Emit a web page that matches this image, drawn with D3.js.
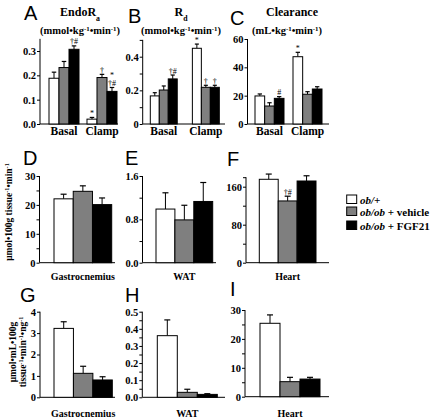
<!DOCTYPE html>
<html><head><meta charset="utf-8">
<script src="https://cdn.jsdelivr.net/npm/d3@7"></script>
<style>body{margin:0;background:#fff}svg{display:block}</style>
</head><body><svg id="c" width="434" height="418"></svg>
<script>
// ---------- data ----------
const series = ["ob/+", "ob/ob + vehicle", "ob/ob + FGF21"];
const seriesColors = ["#ffffff", "#7f7f7f", "#000000"];
const clampCats = ["Basal", "Clamp"];

const endoRaMean = [[0.188, 0.232, 0.307], [0.020, 0.191, 0.134]];
const endoRaSem  = [[0.025, 0.025, 0.014], [0.007, 0.013, 0.016]];
const rdMean = [[0.167, 0.202, 0.268], [0.450, 0.218, 0.218]];
const rdSem  = [[0.019, 0.024, 0.023], [0.025, 0.012, 0.012]];
const clearMean = [[19.8, 12.7, 18.1], [47.5, 21.0, 24.7]];
const clearSem  = [[1.4, 2.3, 1.2], [3.1, 1.8, 1.6]];

const uptakeGastroMean = [22.1, 24.7, 20.1], uptakeGastroSem = [1.6, 1.9, 2.3];
const uptakeWatMean = [0.99, 0.79, 1.13], uptakeWatSem = [0.30, 0.27, 0.35];
const uptakeHeartMean = [175.6, 130, 172], uptakeHeartSem = [11, 10, 11];
const normGastroMean = [3.22, 1.12, 0.81], normGastroSem = [0.31, 0.33, 0.15];
const normWatMean = [0.36, 0.029, 0.017], normWatSem = [0.092, 0.018, 0.004];
const normHeartMean = [25.4, 5.2, 6.1], normHeartSem = [2.9, 1.5, 0.6];

const ticksA = [0, 0.1, 0.2, 0.3], tickLabelsA = ["0.0", "0.1", "0.2", "0.3"];
const ticksB = [0, 0.1, 0.2, 0.3, 0.4, 0.5], tickLabelsB = ["0", "", "0.2", "", "0.4", ""];
const ticksC = [0, 20, 40, 60], tickLabelsC = ["0", "20", "40", "60"];
const ticksD = [0, 5, 10, 15, 20, 25, 30], tickLabelsD = ["0", "", "10", "", "20", "", "30"];
const ticksE = [0, 0.4, 0.8, 1.2, 1.6], tickLabelsE = ["0.0", "", "0.8", "", "1.6"];
const ticksF = [0, 40, 80, 120, 160, 180], tickLabelsF = ["0", "", "80", "", "160", ""];
const ticksG = [0, 1, 2, 3, 4], tickLabelsG = ["0", "1", "2", "3", "4"];
const ticksH = [0, 0.05, 0.1, 0.15, 0.2, 0.25, 0.3, 0.35, 0.4, 0.45, 0.5],
      tickLabelsH = ["0.0", "", "0.1", "", "0.2", "", "0.3", "", "0.4", "", "0.5"];
const ticksI = [0, 5, 10, 15, 20, 25, 30], tickLabelsI = ["0", "", "10", "", "20", "", "30"];

// annotations: [category index, series index, stacked lines (top first)]
const annotA = [[0, 2, ["†#"]], [1, 0, ["*"]], [1, 1, ["†"]], [1, 2, ["*", "†#"]]];
const annotB = [[0, 2, ["†#"]], [1, 0, ["*"]], [1, 1, ["†"]], [1, 2, ["†"]]];
const annotC = [[0, 2, ["#"]], [1, 0, ["*"]]];
const annotF = [[0, 1, ["†#"]]];

// ---------- drawing ----------
const svg = d3.select("#c");
const SERIF = "'Liberation Serif','Times New Roman',serif";
const SANS = "'Liberation Sans',Arial,sans-serif";

function panel(o) {
  const g = svg.append("g");
  const y = d3.scaleLinear().domain([0, o.yMax]).range([o.y0, o.yTopPx]);
  const x = d3.scaleBand().domain(o.cats).range(o.barRange).paddingInner(o.pad).paddingOuter(0);
  const xs = d3.scaleBand().domain(series).range([0, x.bandwidth()]);
  const ax = d3.axisLeft(y).tickValues(o.ticks).tickSize(3).tickPadding(1)
    .tickFormat((d, i) => o.tickLabels[i]);
  const ag = g.append("g").attr("transform", `translate(${o.axisX},0)`).call(ax);
  ag.select(".domain").remove();
  ag.selectAll(".tick line").attr("stroke", "#000");
  ag.selectAll(".tick text").attr("font-family", SERIF).attr("font-weight", "bold")
    .attr("font-size", 10.5).attr("fill", "#000");
  g.append("line").attr("x1", o.axisX).attr("x2", o.axisX)
    .attr("y1", y(0)).attr("y2", y(o.axisTop)).attr("stroke", "#000");
  g.append("line").attr("x1", o.axisX).attr("x2", o.xEnd)
    .attr("y1", y(0)).attr("y2", y(0)).attr("stroke", "#000");

  o.cats.forEach((c, ci) => {
    const means = o.cats.length > 1 ? o.mean[ci] : o.mean;
    const sems = o.cats.length > 1 ? o.sem[ci] : o.sem;
    series.forEach((s, si) => {
      const bx = x(c) + xs(s), bw = xs.bandwidth();
      const cx = bx + bw / 2, top = y(means[si] + sems[si]);
      g.append("line").attr("x1", cx).attr("x2", cx).attr("y1", y(means[si])).attr("y2", top)
        .attr("stroke", "#000").attr("stroke-width", 1);
      const cw = Math.min(6, bw * 0.45);
      g.append("line").attr("x1", cx - cw / 2).attr("x2", cx + cw / 2).attr("y1", top).attr("y2", top)
        .attr("stroke", "#000").attr("stroke-width", 1.2);
      g.append("rect").attr("x", bx).attr("y", y(means[si])).attr("width", bw)
        .attr("height", y(0) - y(means[si])).attr("fill", seriesColors[si])
        .attr("stroke", "#000").attr("stroke-width", 1);
    });
    g.append("text").attr("x", x(c) + x.bandwidth() / 2).attr("y", o.catY)
      .attr("text-anchor", "middle").attr("font-family", SERIF).attr("font-weight", "bold")
      .attr("font-size", o.catSize).attr("fill", "#000").text(c);
  });
  (o.annot || []).forEach(([ci, si, lines]) => {
    const c = o.cats[ci];
    const means = o.cats.length > 1 ? o.mean[ci] : o.mean;
    const sems = o.cats.length > 1 ? o.sem[ci] : o.sem;
    const cx = x(c) + xs(series[si]) + xs.bandwidth() / 2;
    const top = y(means[si] + sems[si]);
    lines.slice().reverse().forEach((t, k) => {
      g.append("text").attr("x", cx).attr("y", top - 1.5 - k * 8).attr("text-anchor", "middle")
        .attr("font-family", SERIF).attr("font-size", 8).attr("fill", "#000").text(t);
    });
  });
  svg.append("text").attr("x", o.letter[1]).attr("y", o.letter[2]).attr("font-family", SANS)
    .attr("font-size", 20).attr("fill", "#000").text(o.letter[0]);
}

function richText(xp, yp, parts, size, anchor, rotate) {
  const t = svg.append("text").attr("font-family", SERIF).attr("font-weight", "bold")
    .attr("font-size", size).attr("fill", "#000").attr("text-anchor", anchor || "middle");
  if (rotate) t.attr("transform", `translate(${xp},${yp}) rotate(-90)`);
  else t.attr("x", xp).attr("y", yp);
  parts.forEach(p => {
    if (typeof p === "string") t.append("tspan").text(p);
    else t.append("tspan").attr("baseline-shift", p.shift).attr("font-size", size * 0.65).text(p.t);
  });
  return t;
}
const sup = t => ({ t, shift: "super" }), sub = t => ({ t, shift: "sub" });
const unitParts = ["(mmol•kg", sup("-1"), "•min", sup("-1"), ")"];

// Row 1
panel({ cats: clampCats, mean: endoRaMean, sem: endoRaSem, yMax: 0.3, y0: 124, yTopPx: 51, axisTop: 0.35,
  ticks: ticksA, tickLabels: tickLabelsA, axisX: 40, barRange: [49, 117], pad: 0.21, xEnd: 118,
  catY: 135, catSize: 11.5, annot: annotA, letter: ["A", 24, 20] });
panel({ cats: clampCats, mean: rdMean, sem: rdSem, yMax: 0.4, y0: 124, yTopPx: 56.7, axisTop: 0.5,
  ticks: ticksB, tickLabels: tickLabelsB, axisX: 142.7, barRange: [150.3, 219.3], pad: 0.36, xEnd: 225,
  catY: 135, catSize: 11.5, annot: annotB, letter: ["B", 128, 23] });
panel({ cats: clampCats, mean: clearMean, sem: clearSem, yMax: 60, y0: 124, yTopPx: 39, axisTop: 60,
  ticks: ticksC, tickLabels: tickLabelsC, axisX: 247.5, barRange: [255, 322], pad: 0.237, xEnd: 329,
  catY: 135, catSize: 11.5, annot: annotC, letter: ["C", 230, 25] });

richText(80, 16, ["EndoR", sub("a")], 12);
richText(80, 34, unitParts, 10.5);
richText(181, 16, ["R", sub("d")], 12);
richText(181, 34, unitParts, 10.5);
richText(292, 16, ["Clearance"], 12);
richText(287, 34, ["(mL•kg", sup("-1"), "•min", sup("-1"), ")"], 10.5);

// Row 2
panel({ cats: ["Gastrocnemius"], mean: uptakeGastroMean, sem: uptakeGastroSem, yMax: 30, y0: 262.7, yTopPx: 176, axisTop: 30,
  ticks: ticksD, tickLabels: tickLabelsD, axisX: 39.5, barRange: [54, 111.7], pad: 0, xEnd: 115,
  catY: 280, catSize: 10, letter: ["D", 23, 165] });
panel({ cats: ["WAT"], mean: uptakeWatMean, sem: uptakeWatSem, yMax: 1.6, y0: 262.7, yTopPx: 176, axisTop: 1.6,
  ticks: ticksE, tickLabels: tickLabelsE, axisX: 142.5, barRange: [156, 212.7], pad: 0, xEnd: 216,
  catY: 280, catSize: 10, letter: ["E", 125, 165] });
panel({ cats: ["Heart"], mean: uptakeHeartMean, sem: uptakeHeartSem, yMax: 160, y0: 262.7, yTopPx: 186.7, axisTop: 180,
  ticks: ticksF, tickLabels: tickLabelsF, axisX: 246, barRange: [259.3, 316], pad: 0, xEnd: 329,
  catY: 280, catSize: 10, annot: annotF, letter: ["F", 227, 166] });
richText(12, 212, ["μmol•100g tissue", sup("-1"), "•min", sup("-1")], 9.5, "middle", true);

// Row 3
panel({ cats: ["Gastrocnemius"], mean: normGastroMean, sem: normGastroSem, yMax: 4, y0: 397.3, yTopPx: 311.7, axisTop: 4,
  ticks: ticksG, tickLabels: tickLabelsG, axisX: 40, barRange: [54, 112.3], pad: 0, xEnd: 115,
  catY: 417, catSize: 10, letter: ["G", 20, 302] });
panel({ cats: ["WAT"], mean: normWatMean, sem: normWatSem, yMax: 0.5, y0: 397.3, yTopPx: 311.7, axisTop: 0.5,
  ticks: ticksH, tickLabels: tickLabelsH, axisX: 142.3, barRange: [157.3, 217.3], pad: 0, xEnd: 225,
  catY: 417, catSize: 10, letter: ["H", 125, 302] });
panel({ cats: ["Heart"], mean: normHeartMean, sem: normHeartSem, yMax: 30, y0: 396.7, yTopPx: 310, axisTop: 30,
  ticks: ticksI, tickLabels: tickLabelsI, axisX: 245, barRange: [260, 320], pad: 0, xEnd: 329,
  catY: 417, catSize: 10, letter: ["I", 230, 296] });
richText(16, 352, ["μmol•mL•100g"], 9.5, "middle", true);
richText(26, 352, ["tissue", sup("-1"), "•min", sup("-1"), "•ng", sup("-1")], 9.5, "middle", true);

// Legend
const legY = [195, 207, 221];
series.forEach((s, i) => {
  svg.append("rect").attr("x", 346.7).attr("y", legY[i]).attr("width", 10).attr("height", 8.5)
    .attr("fill", seriesColors[i]).attr("stroke", "#000");
  const t = svg.append("text").attr("x", 360).attr("y", legY[i] + 8.5).attr("font-family", SERIF)
    .attr("font-weight", "bold").attr("font-size", 11).attr("fill", "#000");
  const m = s.match(/^(ob\/(?:ob|\+))(.*)$/);
  t.append("tspan").attr("font-style", "italic").text(m[1]);
  t.append("tspan").text(m[2]);
});
</script></body></html>
